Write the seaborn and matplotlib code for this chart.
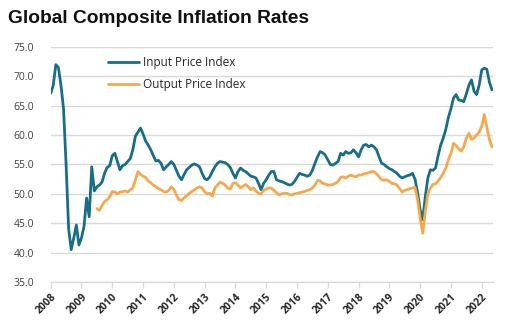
import numpy as np
import pandas as pd
import matplotlib
matplotlib.use("Agg")
import matplotlib.pyplot as plt
import seaborn as sns

# Monthly data, Jan 2008 onward
input_index = [
    67.1, 68.5, 72.0, 71.5, 68.5, 64.5, 55.0, 44.0, 40.5, 42.5, 44.7, 41.3,
    42.5, 44.5, 49.3, 46.1, 54.6, 50.5, 51.2, 51.5, 52.0, 53.5, 54.5, 54.8,
    56.5, 56.9, 55.5, 54.1, 54.8, 55.0, 55.5, 56.0, 57.5, 59.8, 60.5, 61.2,
    60.2, 59.0, 58.3, 57.5, 56.5, 55.6, 55.7, 55.2, 54.1, 54.6, 55.0, 55.5,
    55.0, 54.0, 53.0, 52.4, 53.3, 54.1, 54.5, 54.9, 55.1, 54.9, 54.6, 53.5,
    52.6, 52.4, 52.9, 53.8, 54.6, 55.2, 55.5, 55.4, 55.3, 55.0, 54.5, 53.5,
    52.7, 53.8, 54.4, 54.0, 53.8, 53.4, 53.0, 52.9, 52.7, 51.8, 50.7, 51.8,
    52.4, 53.2, 53.8, 53.8, 52.4, 52.2, 52.1, 51.9, 51.7, 51.5, 51.6, 52.1,
    52.8, 53.5, 53.3, 53.2, 53.0, 53.2, 54.0, 55.2, 56.3, 57.2, 57.0, 56.6,
    55.8, 55.0, 54.9, 55.2, 55.5, 56.9, 56.6, 57.2, 56.9, 57.0, 57.5, 57.0,
    56.3, 57.5, 58.3, 58.4, 58.0, 58.3, 58.0, 57.5, 56.3, 55.2, 55.0, 54.6,
    54.3, 54.1, 53.8, 53.5, 53.0, 52.7, 52.9, 53.1, 53.2, 53.5, 52.5, 50.2,
    47.3, 45.6, 49.5, 52.7, 54.1, 54.0, 54.4, 56.5, 58.3, 59.5, 61.0, 63.0,
    64.5, 66.3, 66.9, 66.0, 65.9, 65.7, 67.0, 68.5, 69.4, 67.5, 66.9, 68.5,
    71.1, 71.4, 71.2, 69.0, 67.7,
]

output_start = 18  # output series begins mid-2009
output_index = [
    47.5, 47.2, 48.0, 48.7, 49.0, 49.5,
    50.4, 50.3, 50.0, 50.3, 50.4, 50.5, 50.3, 50.7, 51.0, 52.3, 53.8, 53.3,
    53.0, 52.8, 52.2, 51.9, 51.5, 51.2, 50.9, 50.7, 50.4, 50.3, 50.6, 51.2,
    50.8, 49.8, 49.0, 48.9, 49.3, 49.7, 50.1, 50.4, 50.7, 51.0, 51.2, 51.0,
    50.4, 50.0, 50.1, 49.6, 51.0, 51.5, 52.0, 51.8, 51.5, 51.0, 50.8, 51.8,
    51.9, 51.5, 51.0, 51.3, 51.6, 51.2, 50.7, 51.0, 50.5, 50.1, 50.0, 50.6,
    50.8, 51.0, 51.0, 50.6, 50.2, 49.8, 50.0, 50.1, 50.1, 49.9, 49.8, 50.0,
    50.1, 50.2, 50.3, 50.4, 50.6, 50.7, 51.0, 51.5, 52.3, 52.2, 51.8, 51.7,
    51.5, 51.5, 51.6, 51.8, 52.1, 52.8, 52.9, 52.7, 53.0, 53.2, 53.0, 52.9,
    53.2, 53.2, 53.4, 53.5, 53.6, 53.8, 53.8, 53.4, 52.9, 52.4, 52.3, 52.4,
    52.1, 51.8, 51.7, 51.5, 50.9, 50.3, 50.6, 50.7, 50.9, 51.0, 51.1, 49.0,
    45.8, 43.3, 47.0, 50.0, 51.0, 51.6, 51.7, 52.2, 52.8, 53.5, 54.4, 55.8,
    56.9, 58.6, 58.2, 57.7, 57.3, 58.0, 59.5, 60.3, 59.3, 59.5, 60.0, 60.5,
    61.5, 63.5, 61.3, 59.3, 58.0,
]

year_ticks = list(range(2008, 2023))
y_ticks = [35, 40, 45, 50, 55, 60, 65, 70, 75]
series_names = ["Input Price Index", "Output Price Index"]
title = "Global Composite Inflation Rates"

n = len(input_index)
dates = 2008 + np.arange(n) / 12.0
out_vals = [np.nan] * output_start + output_index
df = pd.DataFrame({
    "date": np.concatenate([dates, dates]),
    "value": np.concatenate([input_index, out_vals]),
    "series": [series_names[0]] * n + [series_names[1]] * n,
})

sns.set_theme(style="white")
plt.rcParams["font.family"] = ["Open Sans", "DejaVu Sans"]

fig = plt.figure(figsize=(5.07, 3.29), dpi=100)
ax = fig.add_axes([0.1, 0.1429, 0.872, 0.7142])

palette = {series_names[0]: "#176e85", series_names[1]: "#f5a94c"}
sns.lineplot(data=df, x="date", y="value", hue="series", palette=palette,
             linewidth=2.0, ax=ax, legend=True)

ax.set_xlim(2008, 2022.36)
ax.set_ylim(35, 75)
ax.set_yticks(y_ticks)
ax.set_yticklabels([f"{v:.1f}" for v in y_ticks], fontsize=7.5, color="#404040")
ax.set_xticks(year_ticks)
ax.set_xticklabels([str(y) for y in year_ticks], rotation=45, ha="right",
                   rotation_mode="anchor", fontsize=7.5, fontweight="bold",
                   color="#262626")
ax.set_xlabel("")
ax.set_ylabel("")
ax.grid(axis="y", color="#d9d9d9", linewidth=1.0)
ax.set_axisbelow(True)
for s in ["top", "right", "left"]:
    ax.spines[s].set_visible(False)
ax.spines["bottom"].set_color("#d9d9d9")
ax.spines["bottom"].set_linewidth(1.0)
ax.tick_params(axis="x", which="major", bottom=True, length=4, width=1,
               color="#d9d9d9", pad=3)
ax.tick_params(axis="y", length=0, pad=12)

leg = ax.legend(loc="upper left", bbox_to_anchor=(0.12, 0.98), frameon=False,
                fontsize=8.5, handlelength=2.6, handletextpad=0.3,
                labelspacing=0.75, borderaxespad=0)
for t in leg.get_texts():
    t.set_color("#262626")

fig.text(0.016, 0.945, title, fontsize=13.8, fontweight="bold",
         family=["Liberation Sans", "DejaVu Sans"], color="#111111",
         ha="left", va="center")

fig.savefig("out.png", dpi=100, facecolor="white")
